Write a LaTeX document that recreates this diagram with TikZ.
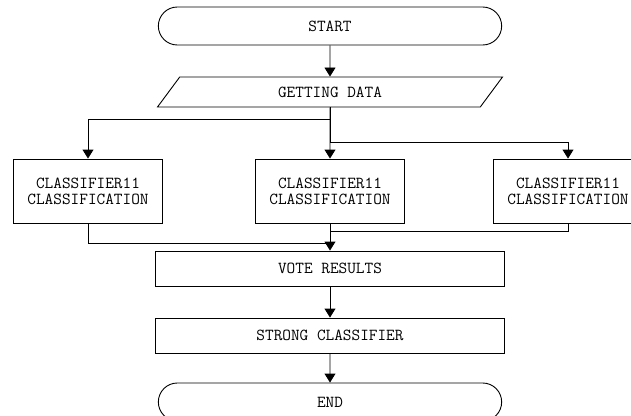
\documentclass[tikz,border=0pt]{standalone}
\usepackage{tikz}
\usetikzlibrary{arrows.meta,shapes,positioning}
\tikzstyle{arrow} = [line width=0.9pt,-{Triangle[width=11pt,length=9pt]}]
\tikzstyle{line} = [line width=0.9pt]
\tikzstyle{terminal} = [rounded rectangle, draw, line width=0.9pt, minimum width=350pt, minimum height=38pt, text centered]
\tikzstyle{iobox} = [trapezium, trapezium left angle=38, trapezium right angle=142, trapezium stretches body=true, draw, line width=0.9pt, minimum width=345pt, minimum height=30pt, text centered]
\tikzstyle{process} = [rectangle, draw, line width=0.9pt, minimum width=349pt, minimum height=35pt, text centered]
\tikzstyle{classifier} = [rectangle, draw, line width=0.9pt, minimum width=149pt, minimum height=64pt, align=center]

\begin{document}
\begin{tikzpicture}[x=1pt, y=-1pt, font=\ttfamily\fontsize{16.8}{16}\selectfont]
    \useasboundingbox (0,0) rectangle (631,415);
    \clip (0,0) rectangle (631,415);

    % Start and input
    \node[terminal] (start) at (330, 26) {START};
    \node[iobox] (data) at (330, 92) {GETTING DATA};

    % Classifiers
    \node[classifier] (clfA) at (88, 191) {CLASSIFIER11\\CLASSIFICATION};
    \node[classifier] (clfB) at (330, 191) {CLASSIFIER11\\CLASSIFICATION};
    \node[classifier] (clfC) at (568, 191) {CLASSIFIER11\\CLASSIFICATION};

    % Vote and result
    \node[process] (vote) at (330, 268.5) {VOTE RESULTS};
    \node[process] (strong) at (330, 335.5) {STRONG CLASSIFIER};
    \node[terminal] (end) at (330, 402) {END};

    % Rows where the branches bend
    \coordinate (rowA) at (0, 119);
    \coordinate (rowB) at (0, 142);
    \coordinate (rowC) at (0, 231);
    \coordinate (rowD) at (0, 243);

    % Connections
    \draw[arrow] (start) -- (data);
    \draw[arrow] (data) -- (clfB);
    \draw[arrow] (data.south) -- (data.south |- rowA) -| (clfA.north);
    \draw[arrow] (data.south) -- (data.south |- rowB) -| (clfC.north);
    \draw[line] (clfA.south) |- (vote.north |- rowD);
    \draw[line] (clfC.south) |- (vote.north |- rowC);
    \draw[arrow] (clfB) -- (vote);
    \draw[arrow] (vote) -- (strong);
    \draw[arrow] (strong) -- (end);
\end{tikzpicture}
\end{document}
